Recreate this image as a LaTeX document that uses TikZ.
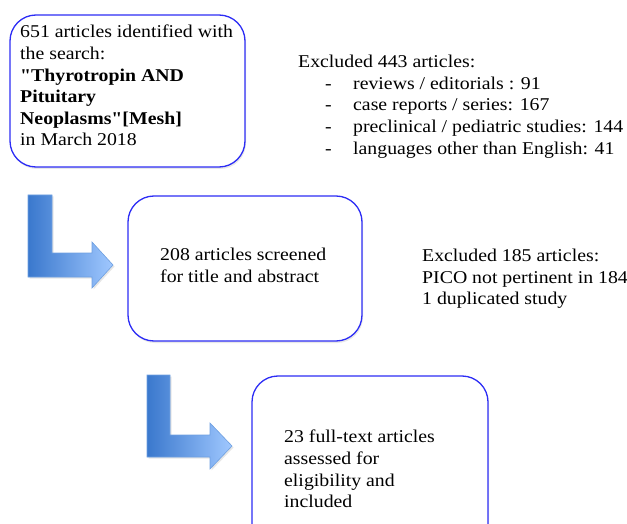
\documentclass[tikz,border=0pt]{standalone}
\usepackage{fontspec}
\setmainfont{Liberation Serif}[Ligatures=TeXOff, FakeStretch=1.1]
\usetikzlibrary{shadows}
\definecolor{boxblue}{RGB}{45,45,245}
\definecolor{arrdark}{RGB}{58,120,205}
\definecolor{arrlight}{RGB}{160,200,255}
\definecolor{arredge}{RGB}{110,160,225}
\tikzset{
 flowbox/.style={draw=boxblue, line width=1.3pt, rounded corners=26pt, fill=white,
   drop shadow={opacity=0.18, shadow xshift=1pt, shadow yshift=-2pt}, inner sep=0pt},
 txt/.style={anchor=north west, inner sep=0pt, align=left, font=\fontsize{18}{21.6}\selectfont},
 bentarrow/.style={left color=arrdark, right color=arrlight, draw=arredge, line width=0.6pt}
}
\newcommand{\dashitem}[1]{\makebox[55pt][l]{\hspace*{27pt}-}#1}
\begin{document}
\begin{tikzpicture}[x=1pt,y=-1pt]
\useasboundingbox (0,0) rectangle (627,524);
\clip (0,0) rectangle (627,524);
% boxes
\node[flowbox, minimum width=235pt, minimum height=152pt] (b1) at (127.5,91) {};
\node[flowbox, minimum width=234pt, minimum height=145pt] (b2) at (245,268.5) {};
\node[flowbox, minimum width=236pt, minimum height=189pt] (b3) at (370,470.5) {};
% texts
\node[txt] (t1) at (20,25) {651 articles identified with\\the search:\\\textbf{"Thyrotropin AND}\\\textbf{Pituitary}\\\textbf{Neoplasms"[Mesh]}\\in March 2018};
\node[txt] (t2) at (160,248) {208 articles screened\\for title and abstract};
\node[txt] (t3) at (284,430) {23 full-text articles\\assessed for\\eligibility and\\included};
\node[txt] (ex1) at (298,55) {Excluded 443 articles:\\\dashitem{reviews / editorials : 91}\\\dashitem{case reports / series: 167}\\\dashitem{preclinical / pediatric studies: 144}\\\dashitem{languages other than English: 41}};
\node[txt] (ex2) at (422,249) {Excluded 185 articles:\\PICO not pertinent in 184\\1 duplicated study};
% bent arrows
\fill[gray, opacity=0.2, shift={(1.5,1.5)}] (28,195) -- (52,195) -- (52,253) -- (92,253) -- (92,242) -- (113,265) -- (92,288) -- (92,277) -- (28,277) -- cycle;
\path[bentarrow] (28,195) -- (52,195) -- (52,253) -- (92,253) -- (92,242) -- (113,265) -- (92,288) -- (92,277) -- (28,277) -- cycle;
\fill[gray, opacity=0.2, shift={(1.5,1.5)}] (147,375) -- (170,375) -- (170,435) -- (210,435) -- (210,423) -- (232,446) -- (210,469) -- (210,457) -- (147,457) -- cycle;
\path[bentarrow] (147,375) -- (170,375) -- (170,435) -- (210,435) -- (210,423) -- (232,446) -- (210,469) -- (210,457) -- (147,457) -- cycle;
\end{tikzpicture}
\end{document}
